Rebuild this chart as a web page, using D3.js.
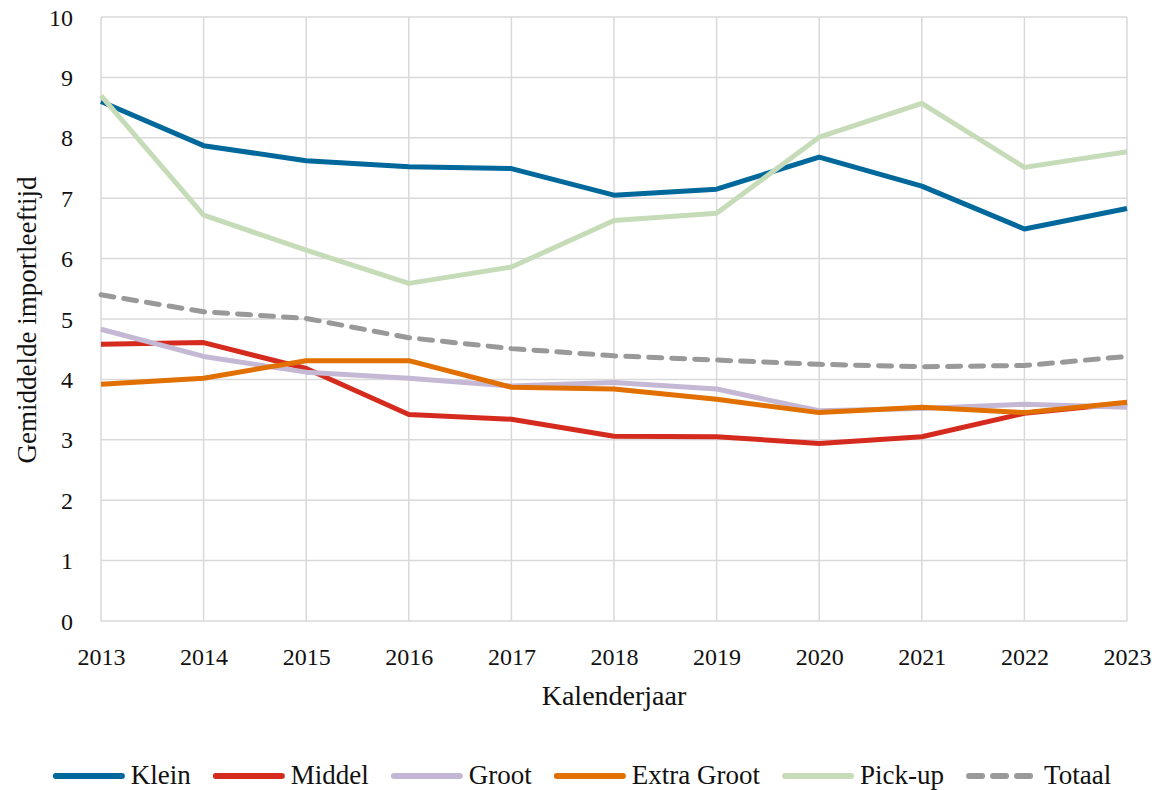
<!DOCTYPE html>
<html><head><meta charset="utf-8">
<script src="https://cdn.jsdelivr.net/npm/d3@7"></script>
<style>
html,body{margin:0;padding:0;background:#fff;}
svg text{font-family:"Liberation Serif","DejaVu Serif",serif;fill:#111;}
</style></head>
<body>
<svg id="chart" width="1160" height="790"></svg>
<script>
const years = [2013,2014,2015,2016,2017,2018,2019,2020,2021,2022,2023];
const yTicks = [0,1,2,3,4,5,6,7,8,9,10];
const seriesNames = ["Klein","Middel","Groot","Extra Groot","Pick-up","Totaal"];
const klein      = [8.60,7.87,7.62,7.52,7.49,7.05,7.15,7.68,7.20,6.49,6.83];
const middel     = [4.58,4.61,4.18,3.42,3.34,3.06,3.05,2.94,3.05,3.44,3.61];
const groot      = [4.83,4.38,4.12,4.02,3.89,3.95,3.84,3.48,3.52,3.59,3.54];
const extraGroot = [3.92,4.02,4.31,4.31,3.87,3.84,3.67,3.45,3.54,3.45,3.62];
const pickup     = [8.70,6.72,6.14,5.59,5.86,6.63,6.75,8.01,8.57,7.51,7.77];
const totaal     = [5.40,5.12,5.01,4.69,4.51,4.39,4.32,4.25,4.21,4.23,4.38];
const colors = ["#01689b","#d52b1e","#c5b8d5","#e17000","#c6dcb8","#999999"];
const xTitle = "Kalenderjaar";
const yTitle = "Gemiddelde importleeftijd";

const seriesValues = [klein, middel, groot, extraGroot, pickup, totaal];
const svg = d3.select("#chart");
const L = 101, R = 1127, T = 17, B = 621;
const x = d3.scaleLinear().domain([2013,2023]).range([L,R]);
const y = d3.scaleLinear().domain([0,10]).range([B,T]);

// grid
const g = svg.append("g");
g.selectAll("line.h").data(yTicks).join("line")
  .attr("x1",L).attr("x2",R).attr("y1",d=>y(d)).attr("y2",d=>y(d))
  .attr("stroke","#d9d9d9").attr("stroke-width",1.5);
g.selectAll("line.v").data(years).join("line").attr("class","v")
  .attr("x1",d=>x(d)).attr("x2",d=>x(d)).attr("y1",T).attr("y2",B)
  .attr("stroke","#d9d9d9").attr("stroke-width",1.5);

// axes
const xAxis = d3.axisBottom(x).tickValues(years).tickFormat(d3.format("d")).tickSize(0).tickPadding(0);
const xa = svg.append("g").attr("transform",`translate(0,${B})`).call(xAxis);
xa.select(".domain").remove();
xa.selectAll("text").attr("font-size",24).attr("dy",null).attr("y",44)
  .style("font-family","Liberation Serif").attr("fill","#111");

const yAxis = d3.axisLeft(y).tickValues(yTicks).tickSize(0).tickPadding(0);
const ya = svg.append("g").attr("transform",`translate(${L},0)`).call(yAxis);
ya.select(".domain").remove();
ya.selectAll("text").attr("font-size",24).attr("dy",null).attr("x",-28).attr("y",8)
  .attr("text-anchor","end").style("font-family","Liberation Serif").attr("fill","#111");

// titles
svg.append("text").attr("x",(L+R)/2).attr("y",705).attr("text-anchor","middle")
  .attr("font-size",28).text(xTitle);
svg.append("text").attr("transform","translate(36,320) rotate(-90)").attr("text-anchor","middle")
  .attr("font-size",27).text(yTitle);

// lines
const line = d3.line().x((d,i)=>x(years[i])).y(d=>y(d));
seriesValues.forEach((vals,i)=>{
  const p = svg.append("path").datum(vals).attr("d",line)
    .attr("fill","none").attr("stroke",colors[i]).attr("stroke-width",5)
    .attr("stroke-linejoin","round");
  if (seriesNames[i]==="Totaal") {
    p.attr("stroke-dasharray","13,10").attr("stroke-linecap","round");
  } else {
    p.attr("stroke-linecap","butt");
  }
});

// legend
const leg = svg.append("g");
const lineLen = 72, gapText = 6, gapItem = 22, legY = 776;
let cx = 0;
seriesNames.forEach((name,i)=>{
  const it = leg.append("g");
  const ln = it.append("line").attr("x1",cx+3).attr("x2",cx+lineLen-3).attr("y1",legY).attr("y2",legY)
    .attr("stroke",colors[i]).attr("stroke-width",6).attr("stroke-linecap","round");
  if (name==="Totaal") ln.attr("stroke-dasharray","13,11");
  const t = it.append("text").attr("x",cx+lineLen+gapText).attr("y",legY+8)
    .attr("font-size",27).text(name);
  cx += lineLen + gapText + t.node().getComputedTextLength() + gapItem;
});
const totalW = cx - gapItem;
leg.attr("transform",`translate(${582 - totalW/2},0)`);
</script>
</body></html>
